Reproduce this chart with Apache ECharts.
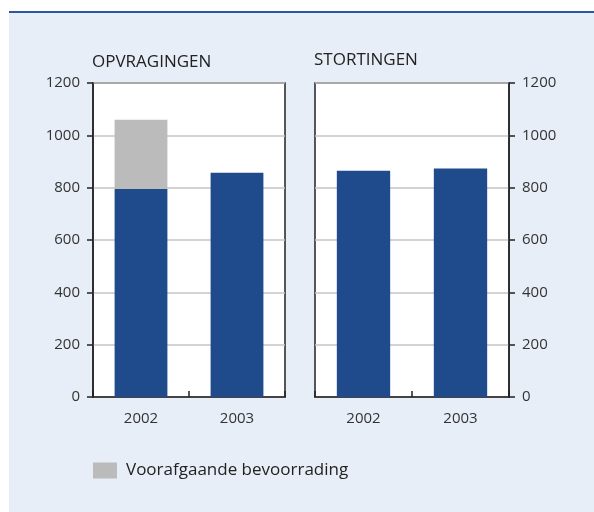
<!DOCTYPE html>
<html>
<head>
<meta charset="utf-8">
<script src="https://cdn.jsdelivr.net/npm/echarts@6/dist/echarts.min.js"></script>
<style>
  html, body { margin: 0; padding: 0; background: #fff; }
  #chart { width: 594px; height: 512px; }
</style>
</head>
<body>
<div id="chart"></div>
<script>
// data
const years = ['2002', '2003'];
const opvragingen = [795, 857];
const voorafgaande = [265, '-'];
const stortingen = [865, 873];
const yTicks = [0, 200, 400, 600, 800, 1000, 1200];

const blue = '#1f4a8b';
const grey = '#bbbbbb';
const font = '"Open Sans", "Liberation Sans", sans-serif';

const chart = echarts.init(document.getElementById('chart'));

const yAxisBase = {
  type: 'value',
  min: yTicks[0],
  max: yTicks[yTicks.length - 1],
  interval: 200,
  axisLine: { show: true, lineStyle: { color: '#222', width: 1.5 } },
  axisTick: { show: true, length: 6, lineStyle: { color: '#222', width: 1.5 } },
  axisLabel: { color: '#333', fontSize: 15, fontFamily: font, margin: 13, formatter: v => String(v) },
  splitLine: { show: true, lineStyle: { color: '#c4c4c4', width: 1.5 } }
};

const xAxisBase = {
  type: 'category',
  data: years,
  axisLine: { show: true, lineStyle: { color: '#222', width: 1.5 } },
  axisTick: { show: true, inside: true, length: 6, lineStyle: { color: '#222', width: 1.5 } },
  axisLabel: { color: '#333', fontSize: 15, fontFamily: font, margin: 14 }
};

chart.setOption({
  backgroundColor: '#fff',
  animation: false,
  graphic: [
    { type: 'rect', shape: { x: 9, y: 13, width: 585, height: 499 }, style: { fill: '#e8eef7' }, z: -10 },
    { type: 'rect', shape: { x: 9, y: 11, width: 585, height: 2 }, style: { fill: '#2c56a0' }, z: -9 },
    { type: 'text', x: 92, y: 62, style: { text: 'OPVRAGINGEN', fill: '#222', font: '17px ' + font, verticalAlign: 'middle' } },
    { type: 'text', x: 314, y: 60, style: { text: 'STORTINGEN', fill: '#222', font: '17px ' + font, verticalAlign: 'middle' } }
  ],
  legend: {
    left: 88,
    top: 457,
    itemWidth: 24,
    itemHeight: 16,
    data: ['Voorafgaande bevoorrading'],
    textStyle: { color: '#222', fontSize: 17, fontFamily: font, padding: [0, 0, 0, 4] },
    icon: 'rect'
  },
  grid: [
    { left: 93, top: 83, width: 192, height: 314, show: true, backgroundColor: '#fff', borderColor: '#222', borderWidth: 1.5 },
    { left: 315, top: 83, width: 194, height: 314, show: true, backgroundColor: '#fff', borderColor: '#222', borderWidth: 1.5 }
  ],
  xAxis: [
    Object.assign({ gridIndex: 0 }, xAxisBase),
    Object.assign({ gridIndex: 1 }, xAxisBase)
  ],
  yAxis: [
    Object.assign({ gridIndex: 0, position: 'left' }, yAxisBase),
    Object.assign({ gridIndex: 1, position: 'right' }, yAxisBase)
  ],
  series: [
    {
      name: 'Opvragingen', type: 'bar', xAxisIndex: 0, yAxisIndex: 0,
      stack: 'op', barWidth: '55%', data: opvragingen,
      itemStyle: { color: blue }
    },
    {
      name: 'Voorafgaande bevoorrading', type: 'bar', xAxisIndex: 0, yAxisIndex: 0,
      stack: 'op', barWidth: '55%', data: voorafgaande,
      itemStyle: { color: grey }
    },
    {
      name: 'Stortingen', type: 'bar', xAxisIndex: 1, yAxisIndex: 1,
      barWidth: '55%', data: stortingen,
      itemStyle: { color: blue }
    }
  ]
});
</script>
</body>
</html>
